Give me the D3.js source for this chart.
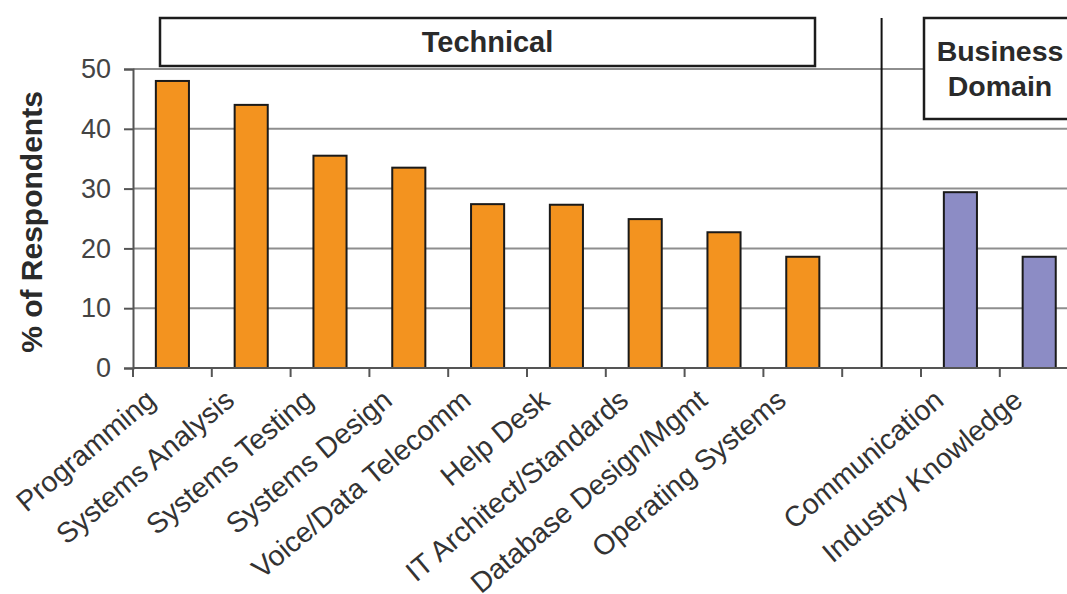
<!DOCTYPE html>
<html>
<head>
<meta charset="utf-8">
<script src="https://cdn.jsdelivr.net/npm/d3@7"></script>
<style>
  html, body { margin: 0; padding: 0; background: #fff; }
  svg { display: block; font-family: "Liberation Sans", Arial, Helvetica, sans-serif; }
</style>
</head>
<body>
<svg id="chart" width="1067" height="594"></svg>
<script>
// Skill groups and the share of respondents naming each one
const technicalSkills = [
  "Programming", "Systems Analysis", "Systems Testing", "Systems Design",
  "Voice/Data Telecomm", "Help Desk", "IT Architect/Standards",
  "Database Design/Mgmt", "Operating Systems"
];
const technicalValues = [48, 44, 35.5, 33.5, 27.4, 27.3, 24.9, 22.7, 18.6];

const businessSkills = ["Communication", "Industry Knowledge"];
const businessValues = [29.4, 18.6];

const yTicks = [0, 10, 20, 30, 40, 50];
const groupTitles = ["Technical", "Business\nDomain"];
const yAxisTitle = "% of Respondents";

const GAP = "__gap";
const slots = [...technicalSkills, GAP, ...businessSkills];

const svg = d3.select("#chart");
const W = 1067, H = 594;

const step = 78.8;
const x0 = 133;
const x = d3.scaleBand()
  .domain(slots)
  .range([x0, x0 + step * slots.length])
  .padding(0);

const y = d3.scaleLinear().domain([0, 50]).range([368, 69]);

const barW = x.bandwidth() * 0.42;

const bars = [
  ...technicalSkills.map((s, i) => ({ skill: s, value: technicalValues[i], group: "tech" })),
  ...businessSkills.map((s, i) => ({ skill: s, value: businessValues[i], group: "biz" }))
];
const fillFor = { tech: "#F3931F", biz: "#8C8CC5" };

// horizontal gridlines
svg.append("g")
  .selectAll("line")
  .data(yTicks.filter(t => t > 0))
  .join("line")
  .attr("x1", x0).attr("x2", W)
  .attr("y1", d => y(d)).attr("y2", d => y(d))
  .attr("stroke", "#8e8e8e")
  .attr("stroke-width", 2);

// y axis
const yAxis = svg.append("g")
  .attr("transform", `translate(${x0},0)`)
  .call(d3.axisLeft(y).tickValues(yTicks).tickSize(9).tickPadding(13));
yAxis.select(".domain").attr("stroke", "#555").attr("stroke-width", 2);
yAxis.selectAll(".tick line").attr("stroke", "#555").attr("stroke-width", 2);
yAxis.selectAll(".tick text")
  .attr("font-size", 27)
  .attr("fill", "#444")
  .attr("font-family", "Liberation Sans, Arial, sans-serif");

// y axis title
svg.append("text")
  .attr("transform", `translate(42,${222}) rotate(-90)`)
  .attr("text-anchor", "middle")
  .attr("font-size", 30)
  .attr("font-weight", "bold")
  .attr("fill", "#2a2a2a")
  .text(yAxisTitle);

// group header boxes
const techLeft = 160, techRight = 815;
svg.append("rect")
  .attr("x", techLeft).attr("y", 18)
  .attr("width", techRight - techLeft).attr("height", 48)
  .attr("fill", "#fff").attr("stroke", "#1c1c1c").attr("stroke-width", 2.5);
svg.append("text")
  .attr("x", (techLeft + techRight) / 2).attr("y", 52)
  .attr("text-anchor", "middle")
  .attr("font-size", 29).attr("font-weight", "bold").attr("fill", "#2a2a2a")
  .text(groupTitles[0]);

const bizLeft = 924, bizRight = 1076;
svg.append("rect")
  .attr("x", bizLeft).attr("y", 18)
  .attr("width", bizRight - bizLeft).attr("height", 101)
  .attr("fill", "#fff").attr("stroke", "#1c1c1c").attr("stroke-width", 2.5);
svg.append("text")
  .attr("x", (bizLeft + bizRight) / 2).attr("y", 61)
  .attr("text-anchor", "middle")
  .attr("font-size", 28.5).attr("font-weight", "bold").attr("fill", "#2a2a2a")
  .selectAll("tspan")
  .data(groupTitles[1].split("\n"))
  .join("tspan")
  .attr("x", (bizLeft + bizRight) / 2)
  .attr("dy", (d, i) => i === 0 ? 0 : 35)
  .text(d => d);

// separator between the two groups
const sepX = x(GAP) + x.bandwidth() / 2;
svg.append("line")
  .attr("x1", sepX).attr("x2", sepX)
  .attr("y1", 18).attr("y2", y(0))
  .attr("stroke", "#111").attr("stroke-width", 2);

// bars
svg.append("g")
  .selectAll("rect")
  .data(bars)
  .join("rect")
  .attr("x", d => x(d.skill) + (x.bandwidth() - barW) / 2)
  .attr("y", d => y(d.value))
  .attr("width", barW)
  .attr("height", d => y(0) - y(d.value))
  .attr("fill", d => fillFor[d.group])
  .attr("stroke", "#1a1a1a")
  .attr("stroke-width", 2);

// x axis line with ticks at slot boundaries
const bounds = [...slots.map(s => x(s)), x.range()[1]];
const xAxisG = svg.append("g");
xAxisG.append("line")
  .attr("x1", x0).attr("x2", W)
  .attr("y1", y(0)).attr("y2", y(0))
  .attr("stroke", "#555").attr("stroke-width", 2);
xAxisG.selectAll("line.tk")
  .data(bounds)
  .join("line")
  .attr("class", "tk")
  .attr("x1", d => d).attr("x2", d => d)
  .attr("y1", y(0)).attr("y2", y(0) + 9)
  .attr("stroke", "#555").attr("stroke-width", 2);

// rotated category labels
svg.append("g")
  .selectAll("text")
  .data(slots.filter(s => s !== GAP))
  .join("text")
  .attr("transform", d => `translate(${x(d) + x.bandwidth() / 2 - 25},${391}) rotate(-40)`)
  .attr("text-anchor", "end")
  .attr("dy", "0.55em")
  .attr("font-size", 28.5)
  .attr("fill", "#333")
  .text(d => d);
</script>
</body>
</html>
